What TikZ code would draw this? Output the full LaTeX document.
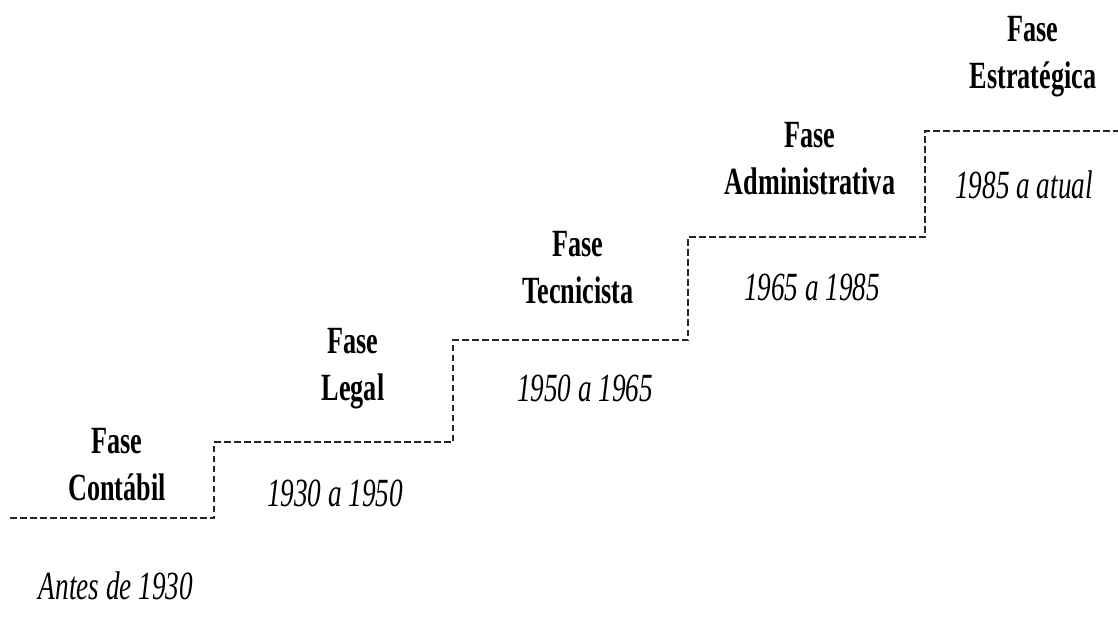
\documentclass[tikz,border=0pt]{standalone}
\usepackage{fontspec}
\newfontfamily\condserif[FakeStretch=0.68]{Liberation Serif}
\begin{document}
\begin{tikzpicture}[x=1pt,y=-1pt,
  stairline/.style={draw=black!85, line width=2pt, dash pattern=on 6.5pt off 3.5pt},
  phase/.style={font=\condserif\bfseries\fontsize{38.5}{47}\selectfont, align=center, inner sep=0pt},
  period/.style={font=\condserif\itshape\fontsize{40}{46}\selectfont, inner sep=0pt}]
\useasboundingbox (0,0) rectangle (1118,617);
\coordinate (s0) at (10,518);
\coordinate (s1) at (214,518);
\coordinate (s2) at (214,442);
\coordinate (s3) at (453,442);
\coordinate (s4) at (453,340);
\coordinate (s5) at (688,340);
\coordinate (s6) at (688,237);
\coordinate (s7) at (925,237);
\coordinate (s8) at (925,131);
\coordinate (s9) at (1118,131);
\draw[stairline] (s0) -- (s1) -- (s2) -- (s3) -- (s4) -- (s5) -- (s6) -- (s7) -- (s8) -- (s9);
\node[phase] (p1) at (117,465) {Fase\\Contábil};
\node[phase] (p2) at (353,369) {Fase\\Legal};
\node[phase] (p3) at (578,268) {Fase\\Tecnicista};
\node[phase] (p4) at (810,159) {Fase\\Administrativa};
\node[phase] (p5) at (1033,57) {Fase\\Estratégica};
\node[period] (d1) at (116,586) {Antes de 1930};
\node[period] (d2) at (335,493) {1930 a 1950};
\node[period] (d3) at (585,388) {1950 a 1965};
\node[period] (d4) at (812,287) {1965 a 1985};
\node[period] (d5) at (1024,185) {1985 a atual};
\end{tikzpicture}
\end{document}
